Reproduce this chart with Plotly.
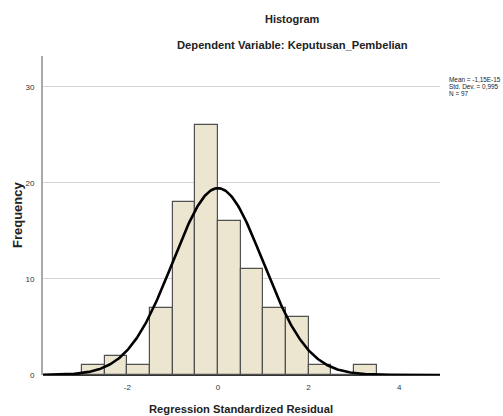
import numpy as np
import plotly.graph_objects as go

# Data
bin_starts = [-3.0, -2.5, -2.0, -1.5, -1.0, -0.5, 0.0, 0.5, 1.0, 1.5, 2.0, 2.5, 3.0]
frequencies = [1, 2, 1, 7, 18, 26, 16, 11, 7, 6, 1, 0, 1]
bin_width = 0.5
mean_val = -1.15e-15
std_val = 0.995
n_val = 97
x_ticks = [-2, 0, 2, 4]
y_ticks = [0, 10, 20, 30]

centers = [b + bin_width / 2 for b in bin_starts]

# Normal curve from reported statistics (as SPSS draws it)
xs = np.linspace(-3.86, 4.9, 400)
ys = n_val * bin_width / (std_val * np.sqrt(2 * np.pi)) * np.exp(-0.5 * ((xs - mean_val) / std_val) ** 2)

fig = go.Figure()
fig.add_trace(go.Bar(
    x=centers, y=frequencies, width=bin_width,
    marker=dict(color="#ECE5CF", line=dict(color="#505050", width=1.2)),
    showlegend=False, hoverinfo="skip"))
fig.add_trace(go.Scatter(
    x=xs, y=ys, mode="lines", line=dict(color="black", width=2.6),
    showlegend=False, hoverinfo="skip"))

font_family = "Liberation Sans, Arial, sans-serif"
fig.update_layout(
    width=503, height=416,
    margin=dict(l=43, r=63, t=56, b=41),
    paper_bgcolor="white", plot_bgcolor="white",
    bargap=0,
    font=dict(family=font_family, color="#222"),
    xaxis=dict(range=[-3.86, 4.9], tickvals=x_ticks, ticktext=[str(t) for t in x_ticks],
               showgrid=False, zeroline=False, showline=False,
               ticks="", tickfont=dict(size=8, color="#333"), ticklabelstandoff=6),
    yaxis=dict(range=[0, 33.2], tickvals=y_ticks, ticktext=[str(t) for t in y_ticks],
               showgrid=True, gridcolor="#D4D4D4", gridwidth=1.2,
               zeroline=True, zerolinecolor="#333", zerolinewidth=1.5,
               showline=True, linecolor="#A8A8A8", linewidth=2,
               ticks="", tickfont=dict(size=8, color="#333"), ticklabelstandoff=5),
)

annots = [
    dict(text="<b>Histogram</b>", x=292, y=19, size=11),
    dict(text="<b>Dependent Variable: Keputusan_Pembelian</b>", x=292, y=45, size=11.2),
    dict(text="<b>Regression Standardized Residual</b>", x=241, y=409, size=11.2),
]
for a in annots:
    fig.add_annotation(text=a["text"], x=(a["x"] - 43) / 397, y=(375 - a["y"]) / 319,
                       xref="paper", yref="paper", showarrow=False,
                       xanchor="center", yanchor="middle",
                       font=dict(size=a["size"], color="#222", family=font_family))
fig.add_annotation(text="<b>Frequency</b>", x=(17 - 43) / 397, y=(375 - 215) / 319,
                   xref="paper", yref="paper", showarrow=False, textangle=-90,
                   xanchor="center", yanchor="middle",
                   font=dict(size=13, color="#222", family=font_family))
stats_lines = ["Mean = -1,15E-15", "Std. Dev. = 0,995", "N = " + str(n_val)]
for i, s in enumerate(stats_lines):
    fig.add_annotation(text=s, x=(447 - 43) / 397, y=(375 - (80 + 7 * i)) / 319,
                       xref="paper", yref="paper", showarrow=False,
                       xanchor="left", yanchor="middle",
                       font=dict(size=6.4, color="#222", family=font_family))

fig.write_html("out.html")
